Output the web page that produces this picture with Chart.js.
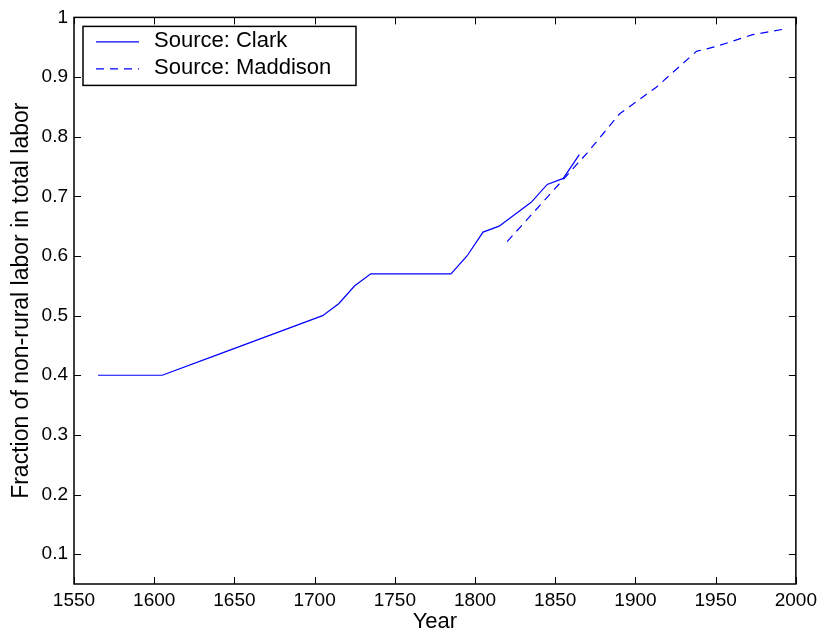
<!DOCTYPE html>
<html><head><meta charset="utf-8">
<script src="https://cdn.jsdelivr.net/npm/chart.js@4/dist/chart.umd.min.js"></script>
<style>html,body{margin:0;padding:0;background:#fff}canvas{display:block}</style>
</head><body>
<canvas id="c" width="822" height="641"></canvas>
<script>
// ---- data ----
const clarkYears  = [1565, 1605, 1635, 1705, 1715, 1725, 1735, 1785, 1795, 1805, 1815, 1835, 1845, 1855, 1865];
const clarkValues = [0.40, 0.40, 0.43, 0.50, 0.52, 0.55, 0.57, 0.57, 0.60, 0.64, 0.65, 0.69, 0.72, 0.73, 0.77];
const maddisonYears  = [1820, 1870, 1890, 1913, 1938, 1950, 1973, 1992];
const maddisonValues = [0.624, 0.773, 0.838, 0.883, 0.943, 0.951, 0.971, 0.980];
const xTicks = [1550, 1600, 1650, 1700, 1750, 1800, 1850, 1900, 1950, 2000];
const yTicks = [0.1, 0.2, 0.3, 0.4, 0.5, 0.6, 0.7, 0.8, 0.9, 1.0];
const seriesLabels = ['Source: Clark', 'Source: Maddison'];
const xTitle = 'Year';
const yTitle = 'Fraction of non-rural labor in total labor';

const FONT = '"Liberation Sans", Arial, Helvetica, sans-serif';
const toPts = (xs, ys) => xs.map((x, i) => ({x: x, y: ys[i]}));

const framePlugin = {
  id: 'frame',
  afterDatasetsDraw(chart) {
    const ctx = chart.ctx;
    const a = chart.chartArea;
    const xs = chart.scales.x, ys = chart.scales.y;
    ctx.save();
    // inward tick marks on all four sides
    ctx.strokeStyle = '#000';
    ctx.lineWidth = 1;
    const TL = 7;
    ctx.beginPath();
    xTicks.forEach(v => {
      const p = Math.round(xs.getPixelForValue(v)) + 0.5;
      ctx.moveTo(p, a.bottom); ctx.lineTo(p, a.bottom - TL);
      ctx.moveTo(p, a.top); ctx.lineTo(p, a.top + TL);
    });
    yTicks.forEach(v => {
      const p = Math.round(ys.getPixelForValue(v)) + 0.5;
      ctx.moveTo(a.left, p); ctx.lineTo(a.left + TL, p);
      ctx.moveTo(a.right, p); ctx.lineTo(a.right - TL, p);
    });
    ctx.stroke();
    // box
    ctx.lineWidth = 1.5;
    ctx.strokeRect(a.left, a.top, a.right - a.left, a.bottom - a.top);

    // legend
    const lx = a.left + 9, ly = a.top + 9, lw = 273, lh = 59;
    ctx.fillStyle = '#fff';
    ctx.fillRect(lx, ly, lw, lh);
    ctx.lineWidth = 1.5;
    ctx.strokeStyle = '#000';
    ctx.strokeRect(lx, ly, lw, lh);
    const rows = [ly + 15, ly + 42];
    chart.data.datasets.forEach((ds, i) => {
      const y = rows[i];
      ctx.strokeStyle = ds.borderColor;
      ctx.lineWidth = ds.borderWidth;
      ctx.setLineDash(ds.borderDash || []);
      ctx.beginPath();
      ctx.moveTo(lx + 13, y + 0.5);
      ctx.lineTo(lx + 56, y + 0.5);
      ctx.stroke();
      ctx.setLineDash([]);
      ctx.fillStyle = '#000';
      ctx.font = '22px ' + FONT;
      ctx.textAlign = 'left';
      ctx.textBaseline = 'middle';
      ctx.fillText(ds.label, lx + 71, y);
    });
    ctx.restore();
  }
};

new Chart(document.getElementById('c'), {
  type: 'line',
  data: {
    datasets: [
      {label: seriesLabels[0], data: toPts(clarkYears, clarkValues), borderColor: '#0000ff', borderWidth: 1.2, pointRadius: 0, fill: false, tension: 0},
      {label: seriesLabels[1], data: toPts(maddisonYears, maddisonValues), borderColor: '#0000ff', borderWidth: 1.2, borderDash: [8, 6], pointRadius: 0, fill: false, tension: 0}
    ]
  },
  options: {
    responsive: false,
    devicePixelRatio: 1,
    animation: false,
    layout: {padding: {top: 14, right: 26, left: 0, bottom: 0}},
    plugins: {legend: {display: false}, tooltip: {enabled: false}},
    scales: {
      x: {
        type: 'linear', min: 1550, max: 2000,
        afterBuildTicks: s => { s.ticks = xTicks.map(v => ({value: v})); },
        afterFit: s => { s.height = 57; },
        grid: {display: false, drawTicks: false},
        border: {display: false},
        ticks: {color: '#000', font: {family: FONT, size: 19}, padding: 5, maxRotation: 0, autoSkip: false, callback: v => String(v)},
        title: {display: true, text: xTitle, color: '#000', font: {family: FONT, size: 22}, padding: {top: 0, bottom: 6}}
      },
      y: {
        type: 'linear', min: 0.05, max: 1,
        afterBuildTicks: s => { s.ticks = yTicks.map(v => ({value: v})); },
        afterFit: s => { s.width = 74; },
        grid: {display: false, drawTicks: false},
        border: {display: false},
        ticks: {color: '#000', font: {family: FONT, size: 19}, padding: 6, autoSkip: false, callback: v => String(+Number(v).toFixed(1))},
        title: {display: true, text: yTitle, color: '#000', font: {family: FONT, size: 23}, padding: {top: 8, bottom: 0}}
      }
    }
  },
  plugins: [framePlugin]
});
</script>
</body></html>
